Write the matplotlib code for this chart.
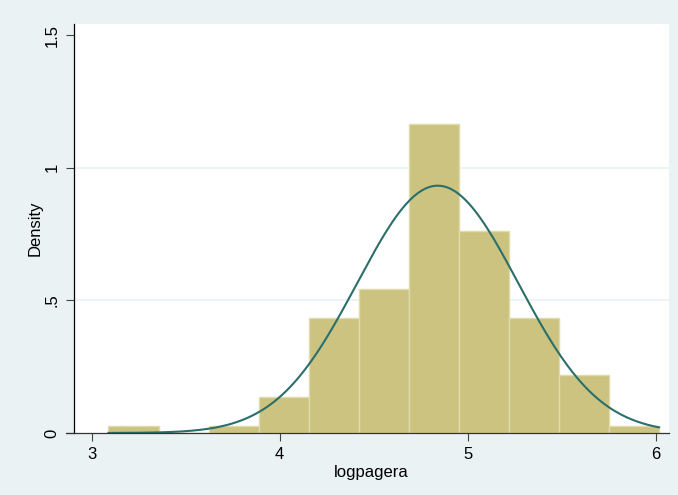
import numpy as np
import matplotlib.pyplot as plt

# histogram of logpagera (density scale)
bin_lo = 3.090
bin_w = 0.2662
density = [0.028, 0.0, 0.028, 0.137, 0.435, 0.543, 1.165, 0.760, 0.435, 0.217, 0.028]
# normal overlay parameters
mu = 4.841
sd = 0.428
x_ticks = [3, 4, 5, 6]
y_ticks = [0, 0.5, 1, 1.5]
y_ticklabels = ["0", ".5", "1", "1.5"]

plt.rcParams['font.family'] = ['Liberation Sans', 'DejaVu Sans']
bg = "#eaf2f3"

fig = plt.figure(figsize=(6.78, 4.95), dpi=100, facecolor=bg)
ax = fig.add_axes([73.5 / 678, (495 - 433) / 495, (669 - 73.5) / 678, (433 - 24) / 495])
ax.set_facecolor("white")

edges = bin_lo + bin_w * np.arange(len(density) + 1)
ax.bar(edges[:-1], density, width=bin_w, align="edge",
       color="#cbc37f", edgecolor="#e0dbac", linewidth=1.0, zorder=2)

xs = np.linspace(edges[0], edges[-1], 300)
ys = np.exp(-0.5 * ((xs - mu) / sd) ** 2) / (sd * np.sqrt(2 * np.pi))
ax.plot(xs, ys, color="#2b6f6b", lw=1.5, zorder=3)

ax.set_xlim(2.904, 6.071)
ax.set_ylim(0, 1.5415)

for g in [0.5, 1.0]:
    ax.axhline(g, color=bg, lw=1.2, zorder=1)

for s in ["top", "right"]:
    ax.spines[s].set_visible(False)
ax.spines["left"].set_linewidth(0.9)
ax.spines["bottom"].set_visible(False)
# x axis line reaches a bit past the y axis, as in the original
ax.plot([-0.013, 1.0], [0, 0], transform=ax.transAxes, color="#333333",
        lw=0.9, clip_on=False, zorder=4)

ax.set_xticks(x_ticks)
ax.set_yticks(y_ticks)
ax.set_yticklabels(y_ticklabels, rotation=90, va="center")
ax.tick_params(axis="both", direction="out", length=6, width=0.8,
               color="#444444", labelsize=12, pad=4)

ax.set_xlabel("logpagera", fontsize=12, labelpad=2.5)
ax.set_ylabel("Density", fontsize=12, labelpad=1.5)

fig.savefig("out.png", dpi=100, facecolor=bg)
